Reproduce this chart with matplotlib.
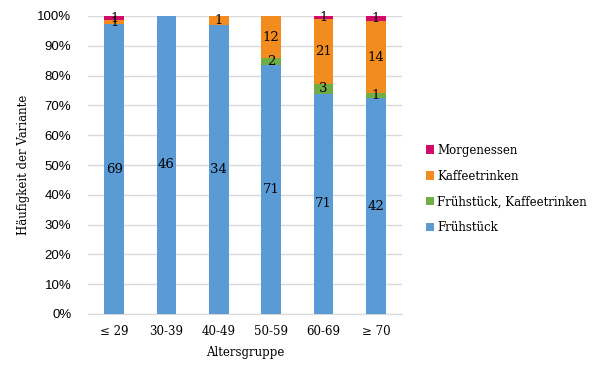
import numpy as np
import matplotlib
matplotlib.use('Agg')
import matplotlib.pyplot as plt
from matplotlib.ticker import PercentFormatter

groups = ['≤ 29', '30-39', '40-49', '50-59', '60-69', '≥ 70']
fruehstueck = [69, 46, 34, 71, 71, 42]
beides = [0, 0, 0, 2, 3, 1]
kaffee = [1, 0, 1, 12, 21, 14]
morgenessen = [1, 0, 0, 0, 1, 1]

series = [('Frühstück', fruehstueck, '#5B9BD5'),
          ('Frühstück, Kaffeetrinken', beides, '#70AD47'),
          ('Kaffeetrinken', kaffee, '#F28C1E'),
          ('Morgenessen', morgenessen, '#D10A6A')]

serif = ['DejaVu Serif']
sans = ['Liberation Sans', 'DejaVu Sans']

counts = np.array([s[1] for s in series], dtype=float)
totals = counts.sum(axis=0)
shares = counts / totals

fig = plt.figure(figsize=(6.05, 3.78), dpi=100)
ax = fig.add_axes([88 / 605, 1 - 314 / 378, 314 / 605, 298 / 378])

x = np.arange(len(groups))
bottom = np.zeros(len(groups))
handles = []
for (name, vals, col), sh in zip(series, shares):
    b = ax.bar(x, sh, 0.38, bottom=bottom, color=col, label=name, zorder=3)
    handles.append(b)
    for i, v in enumerate(vals):
        if v > 0:
            ax.text(x[i], bottom[i] + sh[i] / 2, str(v), ha='center', va='center',
                    fontsize=9.5, family=serif, zorder=4)
    bottom += sh

ax.set_ylim(0, 1)
ax.set_xlim(-0.5, len(groups) - 0.5)
ax.set_yticks(np.arange(0, 1.01, 0.1))
ax.yaxis.set_major_formatter(PercentFormatter(1.0, decimals=0))
ax.grid(axis='y', color='#D9D9D9', linewidth=1, zorder=0)
for s in ['top', 'right', 'left']:
    ax.spines[s].set_visible(False)
ax.spines['bottom'].set_color('#D9D9D9')
ax.tick_params(length=0)
ax.set_xticks(x)
ax.set_xticklabels(groups, family=serif, fontsize=8.5)
for lab in ax.get_yticklabels():
    lab.set_family(sans)
    lab.set_fontsize(9.5)
ax.tick_params(axis='y', pad=12)
ax.tick_params(axis='x', pad=8)

ax.set_xlabel('Altersgruppe', family=serif, fontsize=8.5, labelpad=6)
ax.set_ylabel('Häufigkeit der Variante', family=serif, fontsize=8.5)
ax.yaxis.set_label_coords(-0.185, 0.5)

leg = fig.legend(handles[::-1], [s[0] for s in series][::-1],
                 loc='center left', bbox_to_anchor=(415 / 605, 1 - 189 / 378),
                 frameon=False, prop={'family': serif, 'size': 8.5},
                 handlelength=0.7, handleheight=0.7, handletextpad=0.3,
                 labelspacing=1.1)

fig.savefig('out.png', dpi=100)
